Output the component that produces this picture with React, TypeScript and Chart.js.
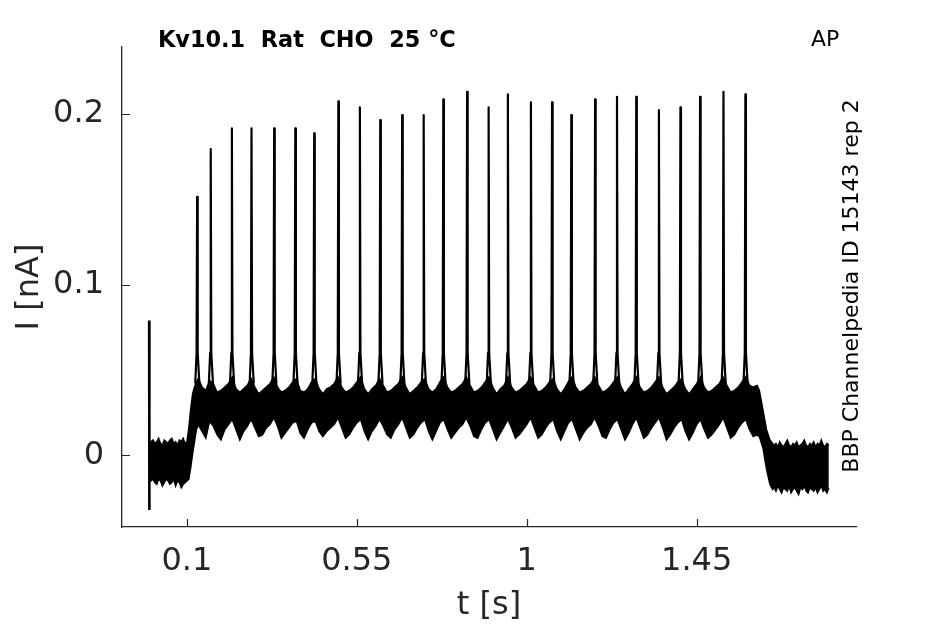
import React, { useEffect, useRef } from "react";
import { Chart, registerables } from "chart.js";

Chart.register(...registerables);

// ---- data ----
const titleText = "Kv10.1  Rat  CHO  25 °C";
const cornerText = "AP";
const sideText = "BBP Channelpedia ID 15143 rep 2";
const xTitle = "t [s]";
const yTitle = "I [nA]";

const xTicks = [0.1, 0.55, 1, 1.45];
const yTicks = [0, 0.1, 0.2];

// envelope of the noisy current trace (s, nA)
const envT = [
  0.0, 0.005, 0.01, 0.015, 0.02, 0.025, 0.03, 0.035, 0.04, 0.045, 0.05, 0.055, 0.06, 0.065, 0.07, 0.075,
  0.08, 0.085, 0.09, 0.095, 0.1, 0.105, 0.11, 0.115, 0.12, 0.125,
  0.13, 0.14, 0.15, 0.16, 0.17, 0.18, 0.19, 0.2, 0.21, 0.22, 0.23, 0.24, 0.25, 0.26, 0.27, 0.28, 0.29,
  0.3, 0.31, 0.32, 0.33, 0.34, 0.35, 0.36, 0.37, 0.38, 0.39, 0.4, 0.41, 0.42, 0.43, 0.44, 0.45, 0.46,
  0.47, 0.48, 0.49, 0.5, 0.51, 0.52, 0.53, 0.54, 0.55, 0.56, 0.57, 0.58, 0.59, 0.6, 0.61, 0.62, 0.63,
  0.64, 0.65, 0.66, 0.67, 0.68, 0.69, 0.7, 0.71, 0.72, 0.73, 0.74, 0.75, 0.76, 0.77, 0.78, 0.79, 0.8,
  0.81, 0.82, 0.83, 0.84, 0.85, 0.86, 0.87, 0.88, 0.89, 0.9, 0.91, 0.92, 0.93, 0.94, 0.95, 0.96, 0.97,
  0.98, 0.99, 1.0, 1.01, 1.02, 1.03, 1.04, 1.05, 1.06, 1.07, 1.08, 1.09, 1.1, 1.11, 1.12, 1.13, 1.14,
  1.15, 1.16, 1.17, 1.18, 1.19, 1.2, 1.21, 1.22, 1.23, 1.24, 1.25, 1.26, 1.27, 1.28, 1.29, 1.3, 1.31,
  1.32, 1.33, 1.34, 1.35, 1.36, 1.37, 1.38, 1.39, 1.4, 1.41, 1.42, 1.43, 1.44, 1.45, 1.46, 1.47, 1.48,
  1.49, 1.5, 1.51, 1.52, 1.53, 1.54, 1.55, 1.56, 1.57, 1.58, 1.59, 1.6, 1.61,
  1.616, 1.626, 1.635, 1.644, 1.651,
  1.655, 1.66, 1.665, 1.67, 1.675, 1.68, 1.685, 1.69, 1.695, 1.7, 1.705, 1.71, 1.715, 1.72, 1.725,
  1.73, 1.735, 1.74, 1.745, 1.75, 1.755, 1.76, 1.765, 1.77, 1.775, 1.78, 1.785, 1.79, 1.795, 1.8,
];
const envHi = [
  0.006, 0.008, 0.009, 0.007, 0.008, 0.01, 0.007, 0.006, 0.009, 0.008, 0.007, 0.009, 0.01, 0.007, 0.008, 0.006,
  0.009, 0.008, 0.01, 0.007, 0.008, 0.016, 0.027, 0.036, 0.04, 0.043,
  0.045, 0.04, 0.038, 0.044, 0.042, 0.037, 0.038, 0.04, 0.042, 0.046, 0.039, 0.037, 0.039, 0.041, 0.045, 0.04, 0.036,
  0.038, 0.04, 0.042, 0.046, 0.04, 0.037, 0.038, 0.04, 0.043, 0.045, 0.038, 0.037, 0.039, 0.043, 0.045, 0.039, 0.036,
  0.039, 0.04, 0.042, 0.046, 0.04, 0.037, 0.038, 0.04, 0.043, 0.046, 0.039, 0.036, 0.039, 0.041, 0.045, 0.041, 0.037,
  0.038, 0.04, 0.042, 0.046, 0.04, 0.036, 0.038, 0.04, 0.043, 0.045, 0.039, 0.037, 0.039, 0.043, 0.046, 0.04, 0.037,
  0.038, 0.04, 0.042, 0.046, 0.041, 0.037, 0.038, 0.04, 0.043, 0.046, 0.04, 0.036, 0.039, 0.041, 0.046, 0.04, 0.037,
  0.038, 0.04, 0.042, 0.046, 0.041, 0.037, 0.038, 0.04, 0.043, 0.045, 0.039, 0.036, 0.039, 0.043, 0.046, 0.04, 0.037,
  0.038, 0.04, 0.042, 0.046, 0.041, 0.037, 0.038, 0.04, 0.043, 0.046, 0.04, 0.036, 0.039, 0.042, 0.046, 0.04, 0.037,
  0.038, 0.04, 0.043, 0.046, 0.04, 0.036, 0.038, 0.04, 0.043, 0.045, 0.039, 0.036, 0.039, 0.042, 0.046, 0.04, 0.037,
  0.038, 0.04, 0.042, 0.046, 0.041, 0.037, 0.038, 0.04, 0.043, 0.046, 0.041, 0.04, 0.041,
  0.038, 0.026, 0.015, 0.009, 0.007,
  0.006, 0.007, 0.005, 0.008, 0.006, 0.005, 0.007, 0.009, 0.006, 0.005, 0.007, 0.006, 0.008, 0.005, 0.006,
  0.007, 0.009, 0.006, 0.005, 0.007, 0.006, 0.008, 0.005, 0.007, 0.006, 0.009, 0.006, 0.005, 0.007, 0.006,
];
const envLo = [
  -0.013, -0.015, -0.014, -0.016, -0.017, -0.014, -0.015, -0.018, -0.016, -0.014, -0.015, -0.017, -0.016, -0.014, -0.018, -0.015,
  -0.016, -0.019, -0.017, -0.016, -0.015, -0.014, -0.007, 0.001, 0.008, 0.015,
  0.018, 0.014, 0.01, 0.02, 0.017, 0.012, 0.009, 0.015, 0.018, 0.021, 0.015, 0.009, 0.014, 0.017, 0.021, 0.016, 0.011,
  0.012, 0.016, 0.018, 0.022, 0.017, 0.01, 0.013, 0.016, 0.019, 0.02, 0.013, 0.01, 0.015, 0.019, 0.02, 0.014, 0.011,
  0.014, 0.016, 0.018, 0.022, 0.016, 0.01, 0.012, 0.016, 0.019, 0.021, 0.014, 0.009, 0.014, 0.017, 0.021, 0.017, 0.012,
  0.01, 0.015, 0.018, 0.022, 0.016, 0.01, 0.012, 0.016, 0.019, 0.021, 0.014, 0.009, 0.014, 0.019, 0.021, 0.015, 0.01,
  0.013, 0.016, 0.018, 0.022, 0.017, 0.011, 0.01, 0.015, 0.019, 0.021, 0.015, 0.009, 0.013, 0.017, 0.021, 0.016, 0.01,
  0.012, 0.015, 0.018, 0.022, 0.016, 0.01, 0.012, 0.016, 0.019, 0.021, 0.014, 0.009, 0.014, 0.019, 0.021, 0.015, 0.009,
  0.013, 0.016, 0.018, 0.022, 0.017, 0.011, 0.01, 0.015, 0.019, 0.021, 0.015, 0.009, 0.013, 0.018, 0.022, 0.016, 0.01,
  0.012, 0.016, 0.019, 0.022, 0.016, 0.009, 0.012, 0.016, 0.019, 0.021, 0.014, 0.009, 0.013, 0.018, 0.021, 0.015, 0.01,
  0.012, 0.015, 0.018, 0.022, 0.016, 0.01, 0.012, 0.016, 0.019, 0.021, 0.015, 0.011, 0.012,
  0.011, 0.004, -0.008, -0.017, -0.02,
  -0.019, -0.021, -0.018, -0.02, -0.022, -0.019, -0.02, -0.021, -0.018, -0.022, -0.02, -0.019, -0.021, -0.023, -0.019,
  -0.02, -0.018, -0.021, -0.022, -0.019, -0.02, -0.021, -0.019, -0.022, -0.02, -0.018, -0.021, -0.02, -0.022, -0.019,
];

// action-potential current spikes
const spikeT = [
  0.127, 0.163, 0.219, 0.271, 0.331, 0.387, 0.437, 0.501, 0.558, 0.612, 0.67, 0.727, 0.779, 0.842,
  0.899, 0.95, 1.011, 1.067, 1.118, 1.181, 1.239, 1.29, 1.35, 1.407, 1.459, 1.521, 1.579,
];
const spikePeak = [
  0.1515, 0.1795, 0.1916, 0.1916, 0.1916, 0.1916, 0.1887, 0.2075, 0.204, 0.1965, 0.1994, 0.1994, 0.2086, 0.213,
  0.2039, 0.2116, 0.2069, 0.2069, 0.1994, 0.2086, 0.2101, 0.2101, 0.2023, 0.2039, 0.2101, 0.213, 0.2116,
];

// capacitive artifact at trace start
const artifactT = [0.0, 0.0005];
const artifactI = [0.079, -0.032];

// ---- styling ----
const FONT = "'DejaVu Sans', sans-serif";
const INK = "#262626";

export default function App() {
  const ref = useRef<HTMLCanvasElement>(null);

  useEffect(() => {
    if (!ref.current) return;
    const hiPts = envT.map((t, i) => ({ x: t, y: envHi[i] }));
    const loPts = envT.map((t, i) => ({ x: t, y: envLo[i] }));
    const spikePts: { x: number; y: number | null }[] = [];
    spikeT.forEach((t, i) => {
      spikePts.push(
        { x: t - 0.005, y: 0.042 },
        { x: t - 0.0015, y: 0.06 },
        { x: t, y: spikePeak[i] },
        { x: t + 0.0015, y: 0.06 },
        { x: t + 0.006, y: 0.042 },
        { x: t + 0.006, y: null }
      );
    });
    const artPts = artifactT.map((t, i) => ({ x: t, y: artifactI[i] }));

    const overlay = {
      id: "overlay",
      afterDraw(chart: any) {
        const ctx = chart.ctx as CanvasRenderingContext2D;
        const xs = chart.scales.x;
        const ys = chart.scales.y;
        const { left, bottom } = chart.chartArea;
        ctx.save();
        // inward tick marks
        ctx.strokeStyle = INK;
        ctx.lineWidth = 1.2;
        ctx.beginPath();
        xTicks.forEach((v) => {
          const px = Math.round(xs.getPixelForValue(v)) + 0.5;
          ctx.moveTo(px, bottom);
          ctx.lineTo(px, bottom - 8);
        });
        yTicks.forEach((v) => {
          const py = Math.round(ys.getPixelForValue(v)) + 0.5;
          ctx.moveTo(left, py);
          ctx.lineTo(left + 8, py);
        });
        ctx.stroke();
        // texts
        ctx.fillStyle = "#000";
        ctx.textAlign = "left";
        ctx.textBaseline = "alphabetic";
        ctx.font = `bold 22.4px ${FONT}`;
        ctx.fillText(titleText, 158, 47);
        ctx.font = `22px ${FONT}`;
        ctx.fillText(cornerText, 811, 46);
        ctx.translate(858, 286);
        ctx.rotate(-Math.PI / 2);
        ctx.textAlign = "center";
        ctx.fillText(sideText, 0, 0);
        ctx.restore();
      },
    };

    const chart = new Chart(ref.current, {
      type: "line",
      data: {
        datasets: [
          {
            data: hiPts,
            borderColor: "#000",
            backgroundColor: "#000",
            borderWidth: 1.5,
            fill: "+1",
            pointRadius: 0,
          },
          {
            data: loPts,
            borderColor: "#000",
            borderWidth: 1.5,
            fill: false,
            pointRadius: 0,
          },
          {
            data: spikePts as any,
            borderColor: "#000",
            borderWidth: 2.2,
            borderJoinStyle: "round",
            fill: false,
            pointRadius: 0,
          },
          {
            data: artPts,
            borderColor: "#000",
            borderWidth: 2.6,
            fill: false,
            pointRadius: 0,
          },
        ],
      } as any,
      options: {
        animation: false,
        responsive: false,
        devicePixelRatio: 1,
        events: [],
        layout: { padding: { top: 47, right: 89, bottom: 0, left: 0 } },
        elements: { line: { tension: 0 }, point: { radius: 0 } },
        plugins: {
          legend: { display: false },
          tooltip: { enabled: false },
          title: { display: false },
        },
        scales: {
          x: {
            type: "linear",
            min: -0.072,
            max: 1.872,
            afterBuildTicks: (s: any) => {
              s.ticks = xTicks.map((v) => ({ value: v }));
            },
            afterFit: (s: any) => {
              s.height = 97;
            },
            ticks: {
              autoSkip: false,
              maxRotation: 0,
              minRotation: 0,
              padding: 15,
              color: INK,
              font: { family: FONT, size: 32 },
              callback: (v: any) => String(v),
            },
            grid: { display: false, drawTicks: false },
            border: { display: true, color: INK, width: 1.3 },
            title: {
              display: true,
              text: xTitle,
              color: INK,
              font: { family: FONT, size: 32 },
              padding: { top: 0, bottom: -1 },
            },
          },
          y: {
            type: "linear",
            min: -0.042,
            max: 0.2393,
            afterBuildTicks: (s: any) => {
              s.ticks = yTicks.map((v) => ({ value: v }));
            },
            afterFit: (s: any) => {
              s.width = 122;
            },
            ticks: {
              padding: 18,
              color: INK,
              font: { family: FONT, size: 32 },
              callback: (v: any) => String(v),
            },
            grid: { display: false, drawTicks: false },
            border: { display: true, color: INK, width: 1.3 },
            title: {
              display: true,
              text: yTitle,
              color: INK,
              font: { family: FONT, size: 32 },
              padding: { top: 10, bottom: 0 },
            },
          },
        },
      } as any,
      plugins: [overlay],
    });
    return () => chart.destroy();
  }, []);

  return (
    <div style={{ position: "absolute", left: 0, top: 0, width: 945, height: 624, background: "#fff" }}>
      <canvas ref={ref} width={945} height={624} />
    </div>
  );
}
